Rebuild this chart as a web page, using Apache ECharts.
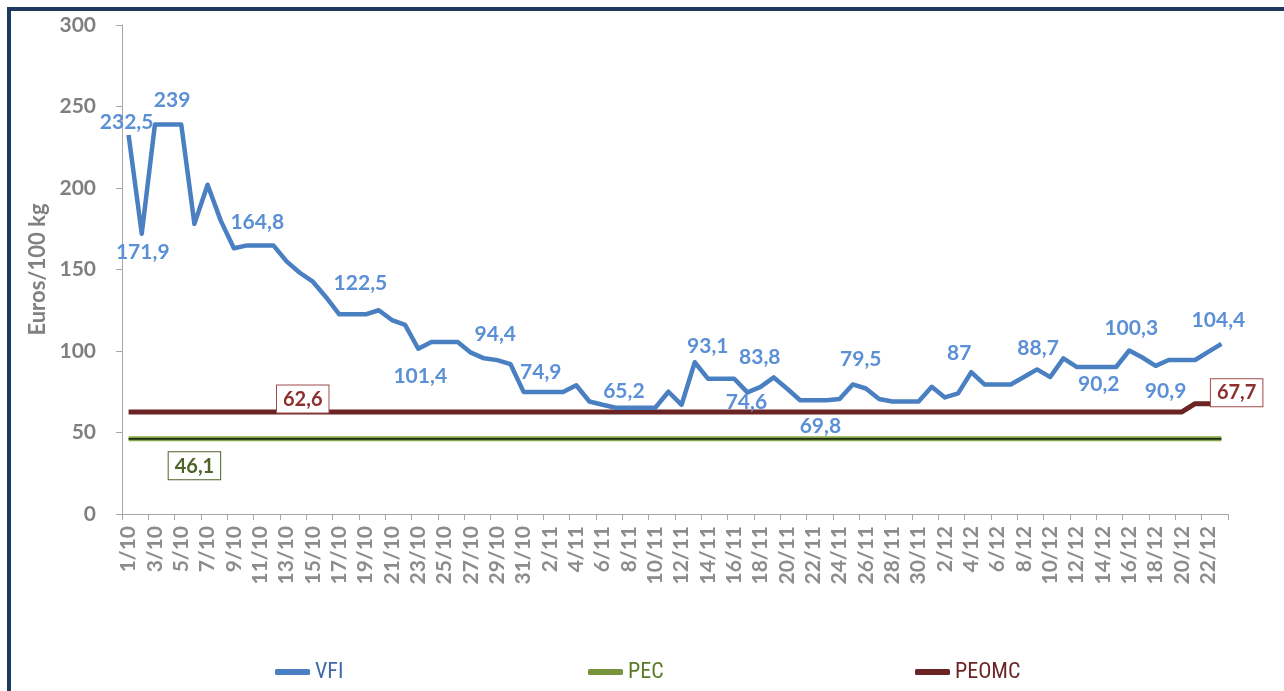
<!DOCTYPE html>
<html>
<head>
<meta charset="utf-8">
<script src="https://cdn.jsdelivr.net/npm/echarts@6/dist/echarts.min.js"></script>
<style>
html,body{margin:0;padding:0;background:#fff;}
#chart{width:1284px;height:691px;}
#frame{position:absolute;left:7px;top:7px;width:1300px;height:700px;border-left:4px solid #1f3a5f;border-top:4px solid #1f3a5f;pointer-events:none;}
</style>
</head>
<body>
<div id="chart"></div>
<div id="frame"></div>
<script>
const categories = [
 '1/10','2/10','3/10','4/10','5/10','6/10','7/10','8/10','9/10','10/10',
 '11/10','12/10','13/10','14/10','15/10','16/10','17/10','18/10','19/10','20/10',
 '21/10','22/10','23/10','24/10','25/10','26/10','27/10','28/10','29/10','30/10','31/10',
 '1/11','2/11','3/11','4/11','5/11','6/11','7/11','8/11','9/11','10/11',
 '11/11','12/11','13/11','14/11','15/11','16/11','17/11','18/11','19/11','20/11',
 '21/11','22/11','23/11','24/11','25/11','26/11','27/11','28/11','29/11','30/11',
 '1/12','2/12','3/12','4/12','5/12','6/12','7/12','8/12','9/12','10/12',
 '11/12','12/12','13/12','14/12','15/12','16/12','17/12','18/12','19/12','20/12',
 '21/12','22/12','23/12'
];
const vfiValues = [
 232.5,171.9,239,239,239,178,202,180,163,164.8,
 164.8,164.8,155,148,142.5,133,122.5,122.5,122.5,125,
 119,116,101.4,105.5,105.5,105.5,99,95.5,94.4,92,74.9,
 74.9,74.9,74.9,79,69,67,65.2,65.2,65.2,65.2,
 75,67,93.1,83,83,83,74.6,78,83.8,77,
 69.8,69.8,69.8,70.5,79.5,77,70.5,69,69,69,
 78,71.5,74,87,79.5,79.5,79.5,84,88.7,84,
 95.5,90.2,90.2,90.2,90.2,100.3,96,90.9,94.5,94.5,
 94.5,99.5,104.4
];
const pecValues = new Array(84).fill(46.1);
const peomcValues = [];
for (let i = 0; i < 84; i++) peomcValues.push(i <= 80 ? 62.6 : 67.7);
const yTicks = {min: 0, max: 300, interval: 50};

// label placement (style only): index -> [position, dx, dy]
const vfiLabelStyle = {
 0:['top',-2,3], 1:['bottom',1,2], 3:['top',4,-8], 10:['top',-3,-7], 17:['top',8,-15],
 22:['bottom',2,12], 28:['top',-2,-10], 31:['top',4,-4], 38:['top',-5,0], 43:['top',13,0],
 49:['top',-14,-4], 47:['bottom',-1,-6], 53:['bottom',-6,10], 55:['top',8,-9], 64:['top',-12,-3],
 69:['top',1,-5], 73:['bottom',9,1], 76:['top',2,-6], 78:['bottom',10,9], 83:['top',-3,-8]
};
const FONT = 'Lato, "Open Sans", sans-serif';
const fmt = p => String(p.value).replace('.', ',');
const HIDDEN = 'rgba(0,0,0,0)';

const vfiData = vfiValues.map((v, i) => {
  const s = vfiLabelStyle[i];
  if (!s) return v;
  return {value: v, label: {show: true, position: s[0], offset: [s[1], s[2]]}};
});
const boxLabel = (color, border) => ({
  show: true, color: color, fontFamily: FONT, fontWeight: 'bold', fontSize: 20,
  backgroundColor: '#fff', borderColor: border, borderWidth: 1, padding: [4, 6, 3, 6],
  formatter: fmt
});
const peomcData = peomcValues.map((v, i) => {
  if (i === 13) return {value: v, label: Object.assign(boxLabel('#8c2f2f', '#a04a4a'), {position: 'top', offset: [3, 6]})};
  if (i === 83) return {value: v, label: Object.assign(boxLabel('#8c2f2f', '#a04a4a'), {position: 'right', offset: [-16, -11]})};
  return v;
});
const pecData = pecValues.map((v, i) => {
  if (i === 5) return {value: v, label: Object.assign(boxLabel('#4f6228', '#4f6228'), {position: 'bottom', offset: [0, 8]})};
  return v;
});

const chart = echarts.init(document.getElementById('chart'));
const legendBase = {
  orient: 'horizontal', top: 656, icon: 'roundRect', itemWidth: 35, itemHeight: 6, itemGap: 4,
  textStyle: {fontFamily: '"Liberation Sans Narrow", "Roboto Condensed", Lato, sans-serif', fontSize: 22}
};
chart.setOption({
  animation: false,
  grid: {left: 122, right: 56, top: 25, bottom: 177, containLabel: false},
  legend: [
    Object.assign({}, legendBase, {left: 270, data: [{name: 'VFI', itemStyle: {color: '#4a7fc1'}, textStyle: {color: '#3f6aa6'}}]}),
    Object.assign({}, legendBase, {left: 583, data: [{name: 'PEC', itemStyle: {color: '#77933c'}, textStyle: {color: '#5b7a2a'}}]}),
    Object.assign({}, legendBase, {left: 910, data: [{name: 'PEOMC', itemStyle: {color: '#6b2323'}, textStyle: {color: '#6d2626'}}]})
  ],
  xAxis: {
    type: 'category', data: categories, boundaryGap: true,
    axisLine: {lineStyle: {color: '#a6a6a6', width: 1}},
    axisTick: {show: true, interval: 1, length: 6, lineStyle: {color: '#a6a6a6'}},
    axisLabel: {interval: 1, rotate: 90, margin: 12, color: '#8c8c8c', fontFamily: FONT, fontWeight: 'bold', fontSize: 21}
  },
  yAxis: {
    type: 'value', min: yTicks.min, max: yTicks.max, interval: yTicks.interval,
    name: 'Euros/100 kg', nameLocation: 'middle', nameGap: 72,
    nameTextStyle: {color: '#808080', fontFamily: FONT, fontWeight: 'bold', fontSize: 22},
    splitLine: {show: false},
    axisLine: {show: true, lineStyle: {color: '#a6a6a6', width: 1}},
    axisTick: {show: true, length: 6, lineStyle: {color: '#a6a6a6'}},
    axisLabel: {margin: 26, color: '#7f7f7f', fontFamily: FONT, fontWeight: 'bold', fontSize: 21}
  },
  series: [
    {name: 'PEC', type: 'line', data: pecData, symbol: 'circle', symbolSize: 1, z: 2,
     lineStyle: {color: '#86a84a', width: 5}, itemStyle: {color: HIDDEN}},
    {name: 'PEC-core', type: 'line', data: pecValues, symbol: 'none', z: 3, silent: true,
     lineStyle: {color: '#1e2a10', width: 1.6}},
    {name: 'PEOMC', type: 'line', data: peomcData, symbol: 'circle', symbolSize: 1, z: 4,
     lineStyle: {color: '#6b2323', width: 5}, itemStyle: {color: HIDDEN}},
    {name: 'VFI', type: 'line', data: vfiData, symbol: 'circle', symbolSize: 1, z: 5,
     lineStyle: {color: '#4a7fc1', width: 4.5, join: 'round'}, itemStyle: {color: HIDDEN},
     label: {show: false, color: '#5b8fd6', fontFamily: FONT, fontWeight: 'bold', fontSize: 21, formatter: fmt}}
  ]
});
</script>
</body>
</html>
